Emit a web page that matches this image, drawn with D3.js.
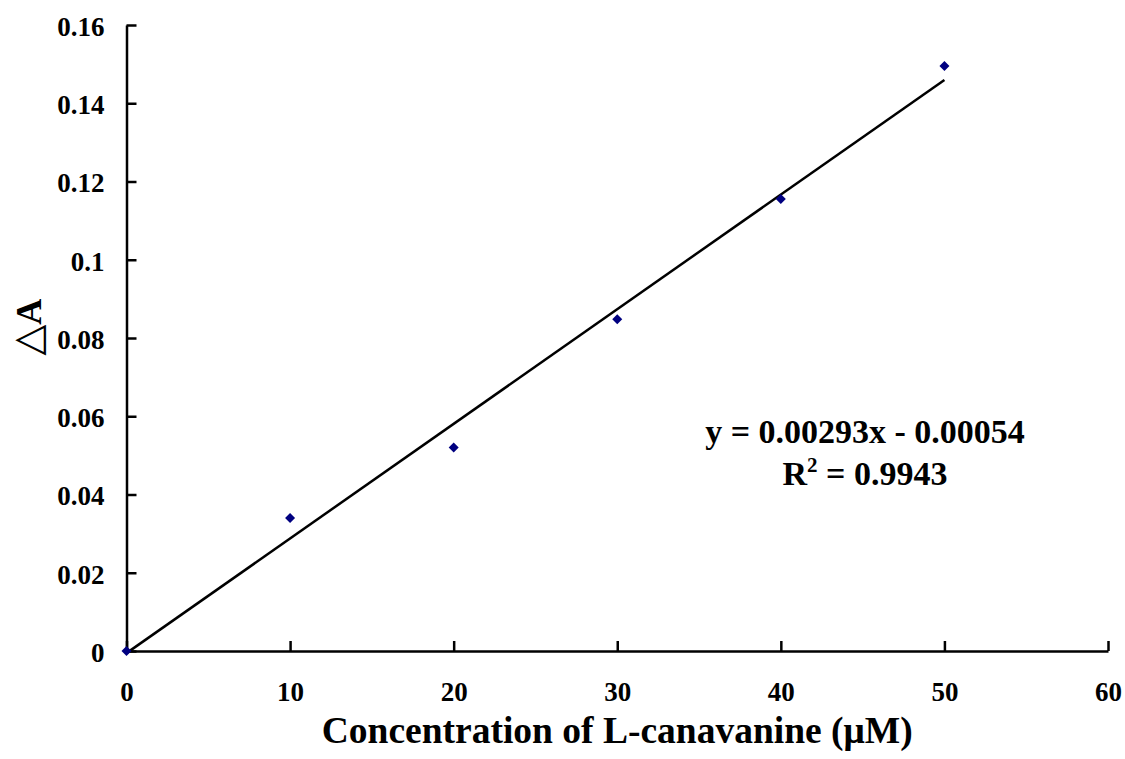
<!DOCTYPE html>
<html>
<head>
<meta charset="utf-8">
<script src="https://cdn.jsdelivr.net/npm/d3@7"></script>
<style>
  body { margin: 0; background: #fff; }
  svg { display: block; }
  text { font-family: "Liberation Serif", "Times New Roman", serif; font-weight: bold; fill: #000; }
</style>
</head>
<body>
<svg id="chart" width="1125" height="759"></svg>
<script>
const concentrations = [0, 10, 20, 30, 40, 50];
const deltaA = [0, 0.0340, 0.0520, 0.0848, 0.1155, 0.1495];
const xTicks = [0, 10, 20, 30, 40, 50, 60];
const yTicks = [0, 0.02, 0.04, 0.06, 0.08, 0.1, 0.12, 0.14, 0.16];
const slope = 0.00293;
const intercept = -0.00054;
const fitRange = [0, 50];
const equationLine = "y = 0.00293x - 0.00054";
const rSquared = "0.9943";

const svg = d3.select("#chart");

const x = d3.scaleLinear().domain([0, 60]).range([126.5, 1108]);
const y = d3.scaleLinear().domain([0, 0.16]).range([651, 25]);

// axes with ticks pointing inward
const yAxis = svg.append("g")
  .attr("transform", `translate(${x(0)},0)`)
  .call(d3.axisLeft(y).tickValues(yTicks).tickSize(-10).tickSizeOuter(0).tickPadding(22)
    .tickFormat(d => d === 0 ? "0" : String(+d.toFixed(2))));

const xAxis = svg.append("g")
  .attr("transform", `translate(0,${y(0)})`)
  .call(d3.axisBottom(x).tickValues(xTicks).tickSize(-10).tickSizeOuter(0).tickPadding(31)
    .tickFormat(d3.format("d")));

[xAxis, yAxis].forEach(a => {
  a.select(".domain").attr("stroke", "#000").attr("stroke-width", 2.5);
  a.selectAll(".tick line").attr("stroke", "#000").attr("stroke-width", 2.5);
  a.selectAll(".tick text")
    .attr("font-size", 27)
    .attr("font-family", "Liberation Serif")
    .attr("font-weight", "bold")
    .attr("fill", "#000");
});
yAxis.selectAll(".tick text").attr("dy", "0.38em");

// trend line
svg.append("line")
  .attr("x1", x(fitRange[0]))
  .attr("y1", y(slope * fitRange[0] + intercept))
  .attr("x2", x(fitRange[1]))
  .attr("y2", y(slope * fitRange[1] + intercept))
  .attr("stroke", "#000")
  .attr("stroke-width", 2.5);

// data points
svg.selectAll("path.pt")
  .data(concentrations.map((c, i) => ({ c, v: deltaA[i] })))
  .enter()
  .append("path")
  .attr("class", "pt")
  .attr("d", d3.symbol(d3.symbolSquare, 50))
  .attr("transform", d => `translate(${x(d.c)},${y(d.v)}) rotate(45)`)
  .attr("fill", "#000080");

// equation
svg.append("text")
  .attr("x", 865)
  .attr("y", 443)
  .attr("text-anchor", "middle")
  .attr("font-size", 34)
  .text(equationLine);

const r2 = svg.append("text")
  .attr("x", 865)
  .attr("y", 485)
  .attr("text-anchor", "middle")
  .attr("font-size", 34);
r2.append("tspan").text("R");
r2.append("tspan").attr("dy", -13).attr("font-size", 21).text("2");
r2.append("tspan").attr("dy", 13).text(" = " + rSquared);

// axis titles
svg.append("text")
  .attr("x", (x(0) + x(60)) / 2)
  .attr("y", 743)
  .attr("text-anchor", "middle")
  .attr("font-size", 37.5)
  .text("Concentration of L-canavanine (μM)");

const yt = svg.append("text")
  .attr("transform", "translate(41,327) rotate(-90)")
  .attr("text-anchor", "middle")
  .attr("font-size", 36);
yt.append("tspan").attr("font-weight", "normal").attr("font-family", "DejaVu Sans").attr("font-size", 40).text("△");
yt.append("tspan").text("A");
</script>
</body>
</html>
